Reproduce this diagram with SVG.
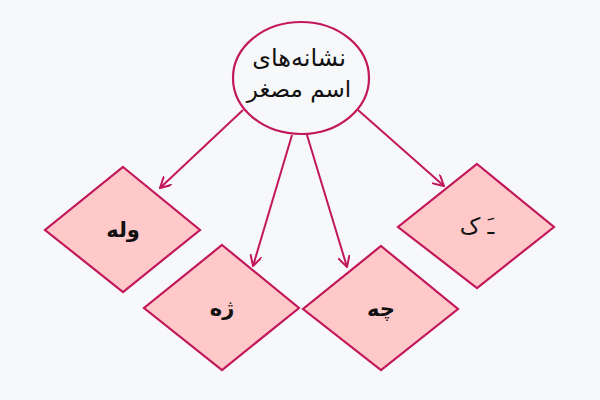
<svg xmlns="http://www.w3.org/2000/svg" width="600" height="400" viewBox="0 0 600 400">
<defs>
<style>
.node{fill:#ffc9c9;stroke:#c2185b;stroke-width:2.2}
.root{fill:#f7f8fa;stroke:#c2185b;stroke-width:2.2}
.edge{fill:none;stroke:#c2185b;stroke-width:2}
.t{font-family:"DejaVu Sans",sans-serif;font-size:24px;fill:#111;text-anchor:middle;direction:rtl}
.d{font-size:21px;font-weight:bold}
.r{font-size:23px}
</style>
<marker id="arr" viewBox="0 0 12 12" refX="11" refY="6" markerWidth="12" markerHeight="12" markerUnits="userSpaceOnUse" orient="auto">
<path d="M0,0 L11,6 L0,12" fill="none" stroke="#c2185b" stroke-width="2"/>
</marker>
</defs>
<rect width="600" height="400" fill="#f7f8fa"/>
<g id="connectors">
<line class="edge" x1="243" y1="110" x2="160" y2="188" marker-end="url(#arr)"/>
<line class="edge" x1="292" y1="135" x2="253" y2="266" marker-end="url(#arr)"/>
<line class="edge" x1="307" y1="135" x2="347" y2="267" marker-end="url(#arr)"/>
<line class="edge" x1="358" y1="110" x2="444" y2="186" marker-end="url(#arr)"/>
</g>
<g id="root">
<ellipse class="root" cx="301" cy="78" rx="68" ry="56"/>
<text class="t" x="299" y="66">نشانه‌های</text>
<text class="t" x="299" y="97" font-size="23" style="font-size:23px">اسم مصغر</text>
</g>
<g id="n1">
<polygon class="node" points="123,167 200,230 123,292 45,230"/>
<text class="t d" x="123" y="237">وله</text>
</g>
<g id="n2">
<polygon class="node" points="222,245 299,308 222,370 144,308"/>
<text class="t d" x="222" y="315">ژه</text>
</g>
<g id="n3">
<polygon class="node" points="381,246 458,309 381,370 303,309"/>
<text class="t d" x="381" y="316">چه</text>
</g>
<g id="n4">
<polygon class="node" points="477,164 554,227 477,288 398,227"/>
<text class="t r" x="477" y="234">ـَ ک</text>
</g>
</svg>
